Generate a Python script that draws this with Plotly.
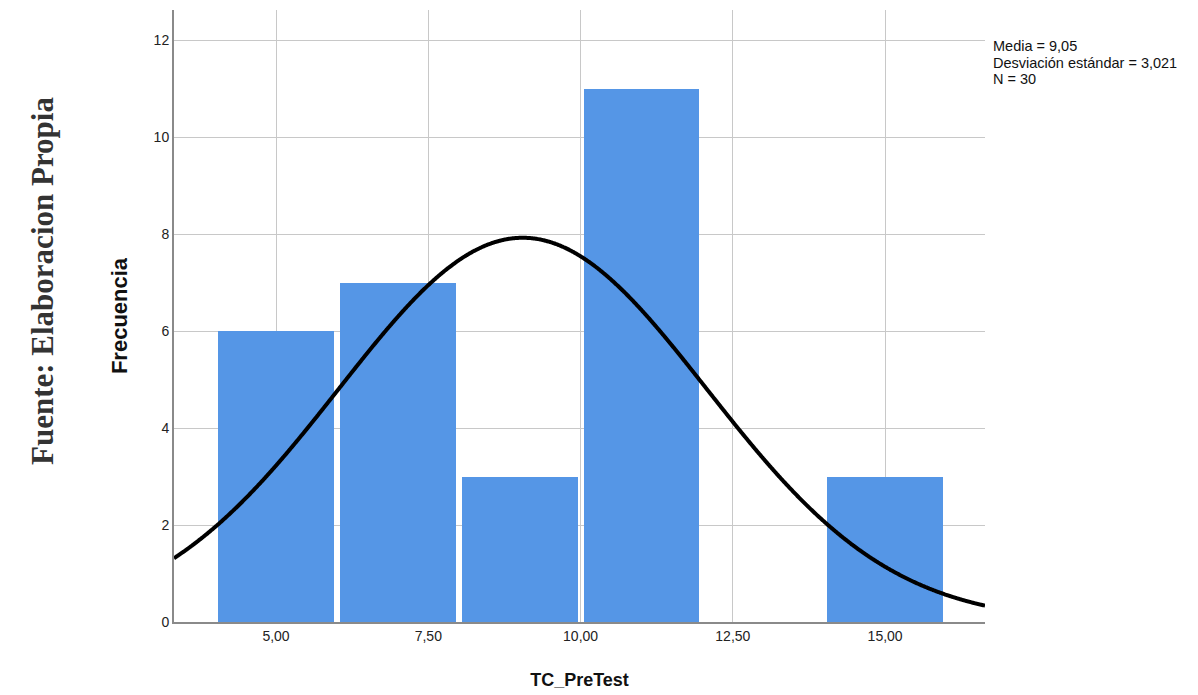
import numpy as np
import plotly.graph_objects as go

bin_centers = [5, 7, 9, 11, 13, 15]
frequencies = [6, 7, 3, 11, 0, 3]
bin_width = 2
mean_val = 9.05
std_val = 3.021
n_val = 30
x_tickvals = [5, 7.5, 10, 12.5, 15]
x_ticktext = ["5,00", "7,50", "10,00", "12,50", "15,00"]
y_tickvals = [0, 2, 4, 6, 8, 10, 12]
stats_lines = ["Media = 9,05", "Desviación estándar = 3,021", f"N = {n_val}"]

x_min, x_max = 3.325, 16.64
xs = np.linspace(x_min, x_max, 800)
ys = n_val * bin_width / (std_val * np.sqrt(2 * np.pi)) * np.exp(-0.5 * ((xs - mean_val) / std_val) ** 2)

fig = go.Figure()
fig.add_trace(go.Bar(x=bin_centers, y=frequencies, width=[1.9] * len(bin_centers),
                     marker=dict(color="#5596E6", line=dict(width=0)), showlegend=False))
fig.add_trace(go.Scatter(x=xs, y=ys, mode="lines", line=dict(color="black", width=4, shape="spline"),
                         showlegend=False))

fig.update_layout(
    width=1190, height=687,
    margin=dict(l=166, r=213, t=2, b=73),
    paper_bgcolor="white", plot_bgcolor="white",
    font=dict(family="Liberation Sans, Arial", color="#222"),
    xaxis=dict(range=[x_min, x_max], tickvals=x_tickvals, ticktext=x_ticktext,
               showgrid=True, gridcolor="#c8c8c8", gridwidth=1,
               showline=True, linecolor="#8a8a8a", linewidth=2, ticks="",
               tickfont=dict(size=14, color="#222"), zeroline=False,
               title=dict(text="<b>TC_PreTest</b>", font=dict(size=18, color="#111"), standoff=31)),
    yaxis=dict(range=[0, 12.62], tickvals=y_tickvals, ticktext=[str(v) for v in y_tickvals],
               showgrid=True, gridcolor="#c8c8c8", gridwidth=1,
               showline=True, linecolor="#8a8a8a", linewidth=2, ticks="",
               tickfont=dict(size=14, color="#222"), zeroline=False,
               title=dict(text="<b>Frecuencia</b>", font=dict(size=22, color="#111"), standoff=20)),
    bargap=0,
)

for i, line in enumerate(stats_lines):
    fig.add_annotation(xref="paper", yref="paper", x=1.0, y=1.0, xanchor="left", yanchor="middle",
                       xshift=6, yshift=-36 - 16.5 * i, align="left", showarrow=False,
                       text=line, font=dict(size=14.5, color="#111", family="Liberation Sans, Arial"))

fig.add_annotation(xref="paper", yref="paper", x=0, y=0.5, xanchor="center", yanchor="middle",
                   xshift=-132, yshift=35, textangle=-90, showarrow=False,
                   text="<b>Fuente: Elaboracion Propia</b>",
                   font=dict(size=31, color="#333", family="Liberation Serif, Times New Roman"))

fig.write_html("out.html")
